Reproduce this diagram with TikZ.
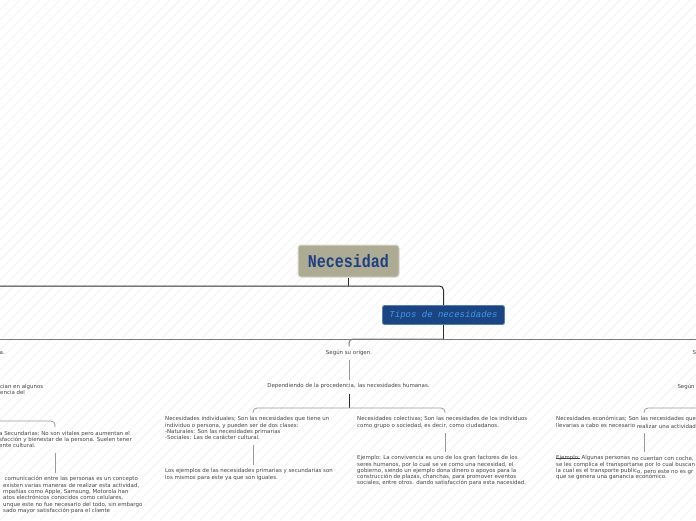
\documentclass[tikz,border=0pt]{standalone}
\usepackage{fontspec}
\usepackage{graphicx}
\setmainfont{DejaVu Sans}
\newfontfamily\titlefont{Liberation Mono}
\newcommand{\strk}[1]{\begingroup\setbox0\hbox{#1}\rlap{\rule[1.5pt]{\wd0}{0.35pt}}\box0\endgroup}
\definecolor{necfill}{HTML}{ADAB93}
\definecolor{necborder}{HTML}{DAD8CB}
\definecolor{necblue}{HTML}{1E3F82}
\definecolor{tiposfill}{HTML}{1B4482}
\definecolor{tiposborder}{HTML}{5A7DB0}
\definecolor{tipostext}{HTML}{3D9CEB}
\definecolor{textgrey}{HTML}{454545}
\definecolor{hatchc}{HTML}{F1F1F1}
\begin{document}
\begin{tikzpicture}[x=1pt,y=-1pt,
  txt/.style={inner sep=0pt, font=\fontsize{5.45}{6.3}\selectfont, text=textgrey, align=left},
  necbox/.style={fill=necfill, draw=necborder, line width=1pt, rounded corners=3pt,
    minimum width=101pt, minimum height=32pt,
    font=\titlefont\bfseries\fontsize{15}{15}\selectfont, text=necblue},
  tiposbox/.style={fill=tiposfill, draw=tiposborder, line width=0.8pt, rounded corners=2pt,
    minimum width=122pt, minimum height=19pt,
    font=\titlefont\itshape\fontsize{9}{9}\selectfont, text=tipostext},
  cdark/.style={draw=black!82, line width=1pt},
  cmid/.style={draw=black!52, line width=1pt},
  clow/.style={draw=black!40, line width=0.8pt},
  hatch/.style={draw=hatchc, line width=0.7pt}]
\useasboundingbox (0,0) rectangle (696,520);
\clip (0,0) rectangle (696,520);
\fill[white] (0,0) rectangle (696,520);
\foreach \i in {-520,-510,...,700} \draw[hatch] (\i,520) -- (\i+520,0);

% main nodes
\node[necbox] (nec) at (348.5,261) {\scalebox{1}[1.2]{Necesidad}};
\node[tiposbox] (tipos) at (443.5,315) {Tipos de necesidades};

% hubs and free ends
\coordinate (hub1) at (348.5,286);
\coordinate (L1) at (-5,286);
\coordinate (hub2) at (443.5,339);
\coordinate (L2) at (-5,339);
\coordinate (R2) at (701,339);
\coordinate (hubD) at (349,408);
\coordinate (cI) at (253,0);
\coordinate (cC) at (445,0);
\coordinate (cE) at (644,0);
\coordinate (cS) at (55,0);
\coordinate (RE) at (701,408);
\coordinate (LS) at (-5,421);

% text nodes
\node[txt, anchor=north] (origen) at (349,349.9) {Según su origen.};
\node[txt, anchor=north] (dep) at (348.5,383.4) {Dependiendo de la procedencia, las necesidades humanas.};
\node[txt, anchor=north west] (indiv) at (165,416.4) {Necesidades individuales; Son las necesidades que tiene un\\individuo o persona, y pueden ser de dos clases:\\-Naturales: Son las necesidades primarias\\-Sociales: Las de carácter cultural.};
\node[txt, anchor=north west] (ejind) at (165,468.4) {Los ejemplos de las necesidades primarias y secundarias son\\los mismos para este ya que son iguales.};
\node[txt, anchor=north west] (colec) at (357,416.4) {Necesidades colectivas; Son las necesidades de los individuos\\como grupo o sociedad, es decir, como ciudadanos.};
\node[txt, anchor=north west] (ejcol) at (357,455.4) {Ejemplo: La convivencia es uno de los gran factores de los\\seres humanos, por lo cual se ve como una necesidad, el\\gobierno, siendo un ejemplo dona dinero o apoyos para la\\construcción de plazas, chanchas, para promover eventos\\sociales, entre otros. dando satisfacción para esta nacesidad.};
\node[txt, anchor=north west] (econ) at (556,416.4) {Necesidades económicas; Son las necesidades que\\llevarias a cabo es necesario \raisebox{-0.8pt}{realizar una actividad}};
\node[txt, anchor=north west] (ejecon) at (556,455.4) {\strk{Ejemplo:} Algunas personas \raisebox{-0.6pt}{no cuentan con coche,}\\se les complica el transportarse por lo cual buscan\\la cual es el transporte public\raisebox{-0.8pt}{o, pero este no es gr}\\que se genera una ganancia económico.};
\node[txt, anchor=north west] (lefta) at (-0.5,351) {a.};
\node[txt, anchor=north west] (leftb) at (0,383.9) {cian en algunos\\encia del};
\node[txt, anchor=north west] (secund) at (-1,430.7) {a Secundarias; No son vitales pero aumentan el\\sfacción y bienestar de la persona. Suelen tener\\ente cultural.};
\node[txt, anchor=north west] (ejsec) at (3,476.4) {\hspace*{1.5pt}comunicación entre las personas es un concepto\\existen varias maneras de realizar esta actividad,\\mpañías como Apple, Samsung, Motorola han\\atos electrónicos conocidos como celulares,\\unque este no fue necesario del todo, sin embargo\\sado mayor satisfacción para el cliente};
\node[txt, anchor=north west] (rights) at (692.5,349.9) {Según};
\node[txt, anchor=north west] (rightb) at (677.3,383.9) {Según};

% connectors
\draw[cdark] (nec.south) -- (hub1);
\draw[cdark, rounded corners=4pt] (L1) -| (tipos.north);
\draw[cdark] (tipos.south) -- (hub2);
\draw[cmid] (L2) -- (R2);
\draw[cmid, rounded corners=4pt, shorten >=3.5pt] (hub2) -| (origen.north);
\draw[clow, shorten <=4.5pt, shorten >=3.5pt] (origen.south) -- (origen.south |- dep.north);
\draw[cdark, line width=0.9pt, shorten <=4.5pt] (dep.south -| hubD) -- (hubD);
\draw[clow, rounded corners=4pt, shorten <=3.5pt, shorten >=3.5pt] (indiv.north -| cI) |- (hubD) -| (colec.north -| cC);
\draw[clow, shorten <=5pt, shorten >=3.5pt] (indiv.south -| cI) -- (ejind.north -| cI);
\draw[clow, shorten <=5pt, shorten >=3.5pt] (colec.south -| cC) -- (ejcol.north -| cC);
\draw[clow, rounded corners=4pt, shorten <=3.5pt] (econ.north -| cE) |- (RE);
\draw[clow, shorten <=5pt, shorten >=3.5pt] (econ.south -| cE) -- (ejecon.north -| cE);
\draw[clow, rounded corners=4pt, shorten <=3.5pt] (secund.north -| cS) |- (LS);
\draw[clow, shorten <=5pt, shorten >=3.5pt] (secund.south -| cS) -- (ejsec.north -| cS);
\end{tikzpicture}
\end{document}
